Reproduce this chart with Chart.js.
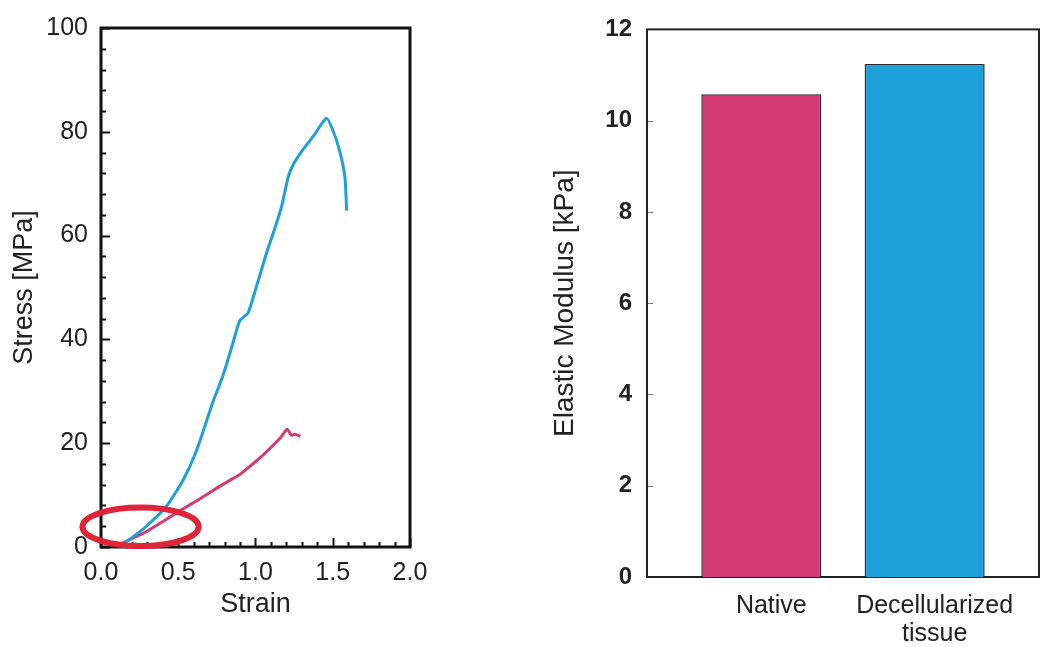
<!DOCTYPE html>
<html>
<head>
<meta charset="utf-8">
<script src="https://cdn.jsdelivr.net/npm/chart.js@4.4.1/dist/chart.umd.min.js"></script>
<style>
  html, body { margin: 0; padding: 0; background: #fff; }
  #wrap { position: relative; width: 1042px; height: 647px; }
  #stressChart { position: absolute; left: 0; top: 0; }
  #modulusChart { position: absolute; left: 520px; top: 0; }
</style>
</head>
<body>
<div id="wrap">
  <canvas id="stressChart" width="440" height="647"></canvas>
  <canvas id="modulusChart" width="522" height="647"></canvas>
</div>
<script>
// Spannungs-Dehnungs-Kurven
const decellStrain = [0.11, 0.20, 0.29, 0.42, 0.53, 0.617, 0.725, 0.79, 0.855, 0.898, 0.952, 1.006, 1.071, 1.114, 1.168, 1.211, 1.244, 1.298, 1.373, 1.46, 1.503, 1.546, 1.579, 1.59];
const decellStress = [0, 1.8, 3.9, 7.7, 12.8, 18.5, 28.0, 33.1, 39.4, 43.6, 45.1, 50.2, 56.6, 60.4, 65.5, 71.2, 73.7, 76.2, 79.1, 82.6, 80.1, 76.2, 71.2, 64.8];
const nativeStrain = [0.12, 0.20, 0.29, 0.40, 0.51, 0.62, 0.725, 0.82, 0.90, 1.03, 1.10, 1.16, 1.205, 1.23, 1.26, 1.29];
const nativeStress = [0.5, 1.6, 2.9, 4.9, 7.0, 8.9, 10.9, 12.6, 14.0, 17.2, 19.2, 21.0, 22.7, 21.6, 21.7, 21.3];

// Markierung (Ellipse) in Datenkoordinaten: Mitte und Halbachsen
const markCenter = [0.256, 3.9];
const markRadius = [0.376, 3.7];

// Elastizitätsmodul
const categories = ['Native', 'Decellularized\ntissue'];
const modulus = [10.58, 11.24];

const PINK = '#d43a74';
const BLUE = '#1ea0da';
const TEXT = '#222';

Chart.defaults.font.family = '"Liberation Sans", Arial, sans-serif';
Chart.defaults.color = TEXT;

const toPoints = (xs, ys) => xs.map((v, i) => ({ x: v, y: ys[i] }));

// Rahmen + nach innen zeigende Teilstriche
const frameTicks = {
    id: 'frameTicks',
    beforeDatasetsDraw(chart, args, opts) {
        const { ctx, chartArea: a, scales: { x, y } } = chart;
        const isMajor = (v, step) => Math.abs(v / step - Math.round(v / step)) < 1e-6;
        ctx.save();
        ctx.strokeStyle = opts.tickColor;
        ctx.lineWidth = opts.tickWidth;
        ctx.beginPath();
        if (opts.yMinor) {
            for (let v = y.min; v <= y.max + 1e-9; v += opts.yMinor) {
                const py = Math.round(y.getPixelForValue(v)) + 0.5;
                const len = isMajor(v, opts.yMajor) ? opts.majorLen : opts.minorLen;
                ctx.moveTo(a.left, py);
                ctx.lineTo(a.left + len, py);
            }
        }
        if (opts.xMinor) {
            for (let v = x.min; v <= x.max + 1e-9; v += opts.xMinor) {
                const px = Math.round(x.getPixelForValue(v)) + 0.5;
                const len = isMajor(v, opts.xMajor) ? opts.majorLen : opts.minorLen;
                ctx.moveTo(px, a.bottom);
                ctx.lineTo(px, a.bottom - len);
            }
        }
        ctx.stroke();
        ctx.strokeStyle = opts.frameColor;
        ctx.lineWidth = opts.frameWidth;
        ctx.strokeRect(a.left, a.top, a.right - a.left, a.bottom - a.top);
        ctx.restore();
    }
};

const ellipseMark = {
    id: 'ellipseMark',
    afterDraw(chart) {
        const { ctx, scales: { x, y } } = chart;
        const cx = x.getPixelForValue(markCenter[0]);
        const cy = y.getPixelForValue(markCenter[1]);
        const rx = x.getPixelForValue(markCenter[0] + markRadius[0]) - cx;
        const ry = cy - y.getPixelForValue(markCenter[1] + markRadius[1]);
        ctx.save();
        ctx.beginPath();
        ctx.ellipse(cx, cy, rx, ry, 0, 0, Math.PI * 2);
        ctx.lineWidth = 6;
        ctx.strokeStyle = '#e0243a';
        ctx.stroke();
        ctx.restore();
    }
};

// Linkes Diagramm: Stress / Strain
new Chart(document.getElementById('stressChart'), {
    type: 'line',
    data: {
        datasets: [{
            data: toPoints(decellStrain, decellStress),
            borderColor: BLUE,
            borderWidth: 3,
            pointRadius: 0,
            tension: 0.2
        }, {
            data: toPoints(nativeStrain, nativeStress),
            borderColor: PINK,
            borderWidth: 3,
            pointRadius: 0,
            tension: 0.2
        }]
    },
    options: {
        responsive: false,
        animation: false,
        layout: { padding: { left: 0, top: 22, right: 30, bottom: 22 } },
        scales: {
            x: {
                type: 'linear',
                min: 0,
                max: 2,
                grid: { display: false, drawTicks: false },
                border: { display: false },
                ticks: {
                    stepSize: 0.5,
                    padding: 11,
                    font: { size: 25 },
                    callback: v => v.toFixed(1)
                },
                title: { display: true, text: 'Strain', font: { size: 27 }, padding: { top: 0, bottom: 4 } },
                afterFit: s => { s.height = 78; }
            },
            y: {
                min: 0,
                max: 100,
                grid: { display: false, drawTicks: false },
                border: { display: false },
                ticks: { stepSize: 20, padding: 13, font: { size: 25 } },
                title: { display: true, text: 'Stress [MPa]', font: { size: 27 }, padding: { top: 8, bottom: 0 } },
                afterFit: s => { s.width = 101; }
            }
        },
        plugins: {
            legend: { display: false },
            tooltip: { enabled: false },
            frameTicks: {
                tickColor: '#111', tickWidth: 2,
                frameColor: '#111', frameWidth: 3,
                yMinor: 4, yMajor: 20,
                xMinor: 0.1, xMajor: 0.5,
                majorLen: 9, minorLen: 5
            }
        }
    },
    plugins: [frameTicks, ellipseMark]
});

// Rechtes Diagramm: Elastizitätsmodul
new Chart(document.getElementById('modulusChart'), {
    type: 'bar',
    data: {
        datasets: [{
            data: modulus.map((v, i) => ({ x: i + 1, y: v })),
            backgroundColor: [PINK, BLUE],
            borderColor: '#2a2a2a',
            borderWidth: 1.5,
            categoryPercentage: 1,
            barPercentage: 0.735
        }]
    },
    options: {
        responsive: false,
        animation: false,
        layout: { padding: { left: 0, top: 27, right: 3, bottom: 0 } },
        scales: {
            x: {
                type: 'linear',
                min: 0.3,
                max: 2.7,
                offset: false,
                grid: { display: false, drawTicks: false, offset: false },
                border: { display: false },
                afterBuildTicks: s => { s.ticks = categories.map((c, i) => ({ value: i + 1 })); },
                ticks: {
                    autoSkip: false,
                    maxRotation: 0,
                    padding: 15,
                    labelOffset: 10,
                    font: { size: 25, lineHeight: 1.12 },
                    callback: v => categories[Math.round(v) - 1].split('\n')
                },
                afterFit: s => { s.height = 70; }
            },
            y: {
                min: 0,
                max: 12,
                grid: { display: false, drawTicks: false },
                border: { display: false },
                ticks: { stepSize: 2, padding: 15, font: { size: 24, weight: 'bold' } },
                title: { display: true, text: 'Elastic Modulus [kPa]', font: { size: 28 }, padding: { top: 28, bottom: 0 } },
                afterFit: s => { s.width = 127; }
            }
        },
        plugins: {
            legend: { display: false },
            tooltip: { enabled: false },
            frameTicks: {
                tickColor: '#777', tickWidth: 1,
                frameColor: '#222', frameWidth: 2,
                yMinor: 2, yMajor: 2,
                majorLen: 6, minorLen: 6
            }
        }
    },
    plugins: [frameTicks]
});
</script>
</body>
</html>
